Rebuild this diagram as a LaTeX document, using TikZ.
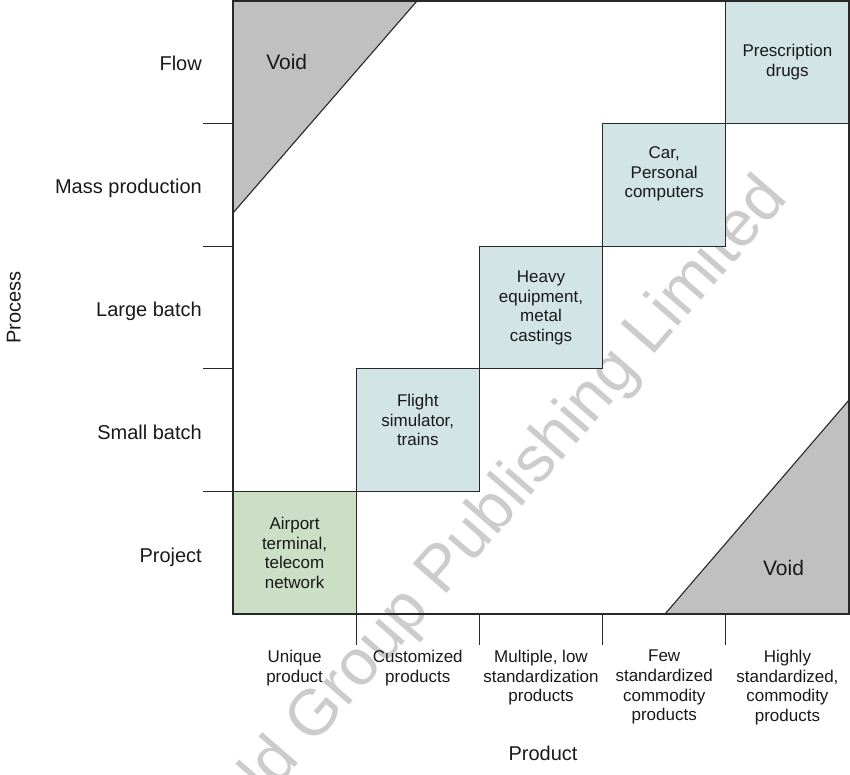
\documentclass[tikz,border=0pt]{standalone}
\usepackage{fontspec}
\setmainfont{Liberation Sans}
\definecolor{boxblue}{RGB}{211,228,231}
\definecolor{boxgreen}{RGB}{202,223,197}
\definecolor{voidgray}{RGB}{192,192,192}
\definecolor{linec}{RGB}{40,40,40}
\definecolor{txt}{RGB}{25,25,25}
\begin{document}
\begin{tikzpicture}[x=1pt,y=-1pt,
  ln/.style={draw=linec, line width=1.2pt},
  cell/.style={draw=linec, line width=1.2pt, minimum width=123.2pt, minimum height=122.6pt, inner sep=0pt},
  rowlab/.style={anchor=base east, inner sep=0pt, font=\fontsize{20}{24}\selectfont, text=txt},
  boxtxt/.style={align=center, inner sep=0pt, font=\fontsize{17}{19.6}\selectfont, text=txt},
  collab/.style={anchor=north, align=center, inner sep=0pt, font=\fontsize{17}{19.6}\selectfont, text=txt},
  axlab/.style={anchor=base, inner sep=0pt, font=\fontsize{20}{24}\selectfont, text=txt},
  voidlab/.style={anchor=base, inner sep=0pt, font=\fontsize{21}{25}\selectfont, text=txt},
  wmark/.style={anchor=base, inner sep=0pt, font=\fontsize{65}{70}\selectfont, text=black!20}]
\useasboundingbox (0,0) rectangle (850,775);
% watermark
\node[wmark, rotate=49] (wm) at (466,571) {Emerald Group Publishing Limited};
% void triangles
\filldraw[fill=voidgray, draw=linec, line width=1.1pt] (233,1) -- (417,1) -- (233,213) -- cycle;
\filldraw[fill=voidgray, draw=linec, line width=1.1pt] (665,614) -- (849,400) -- (849,614) -- cycle;
% boxes
\node[cell, fill=boxgreen] (bProject) at (294.6,552.7) {};
\node[cell, fill=boxblue] (bSmall) at (417.8,430.1) {};
\node[cell, fill=boxblue] (bLarge) at (541.0,307.5) {};
\node[cell, fill=boxblue] (bMass) at (664.2,184.9) {};
\node[cell, fill=boxblue] (bFlow) at (787.4,62.3) {};
% frame
\draw[ln] (233,1) rectangle (849,614);
% coordinates for ticks
\coordinate (l1) at (203,123.6); \coordinate (r1) at (233,123.6);
\coordinate (l2) at (203,246.2); \coordinate (r2) at (233,246.2);
\coordinate (l3) at (203,368.8); \coordinate (r3) at (233,368.8);
\coordinate (l4) at (203,491.4); \coordinate (r4) at (233,491.4);
\coordinate (t1) at (356.2,614); \coordinate (u1) at (356.2,645);
\coordinate (t2) at (479.4,614); \coordinate (u2) at (479.4,645);
\coordinate (t3) at (602.6,614); \coordinate (u3) at (602.6,645);
\coordinate (t4) at (725.8,614); \coordinate (u4) at (725.8,645);
\draw[ln] (l1) -- (r1) (l2) -- (r2) (l3) -- (r3) (l4) -- (r4);
\draw[ln] (t1) -- (u1) (t2) -- (u2) (t3) -- (u3) (t4) -- (u4);
% box texts
\node[boxtxt] (tProject) at (294.6,553) {Airport\\terminal,\\telecom\\network};
\node[boxtxt] (tSmall) at (417.8,420) {Flight\\simulator,\\trains};
\node[boxtxt] (tLarge) at (541.0,308) {Heavy\\equipment,\\metal\\castings};
\node[boxtxt] (tMass) at (664.2,174) {Car,\\Personal\\computers};
\node[boxtxt] (tFlow) at (787.4,62) {Prescription\\drugs};
% void labels
\node[voidlab] (v1) at (286.7,69.5) {Void};
\node[voidlab] (v2) at (783.5,575) {Void};
% row labels
\node[rowlab] (rFlow) at (202,70.5) {Flow};
\node[rowlab] (rMass) at (202,193.3) {Mass production};
\node[rowlab] (rLarge) at (202,316.5) {Large batch};
\node[rowlab] (rSmall) at (202,439.5) {Small batch};
\node[rowlab] (rProject) at (202,562) {Project};
% column labels
\node[collab] (c1) at (294.6,650) {Unique\\product};
\node[collab] (c2) at (417.8,650) {Customized\\products};
\node[collab] (c3) at (541.0,650) {Multiple, low\\standardization\\products};
\node[collab] (c4) at (664.2,650) {Few\\standardized\\commodity\\products};
\node[collab] (c5) at (787.4,650) {Highly\\standardized,\\commodity\\products};
% axis labels
\node[axlab, rotate=90] (process) at (20.5,307.5) {Process};
\node[axlab] (product) at (543,760) {Product};
\end{tikzpicture}
\end{document}
